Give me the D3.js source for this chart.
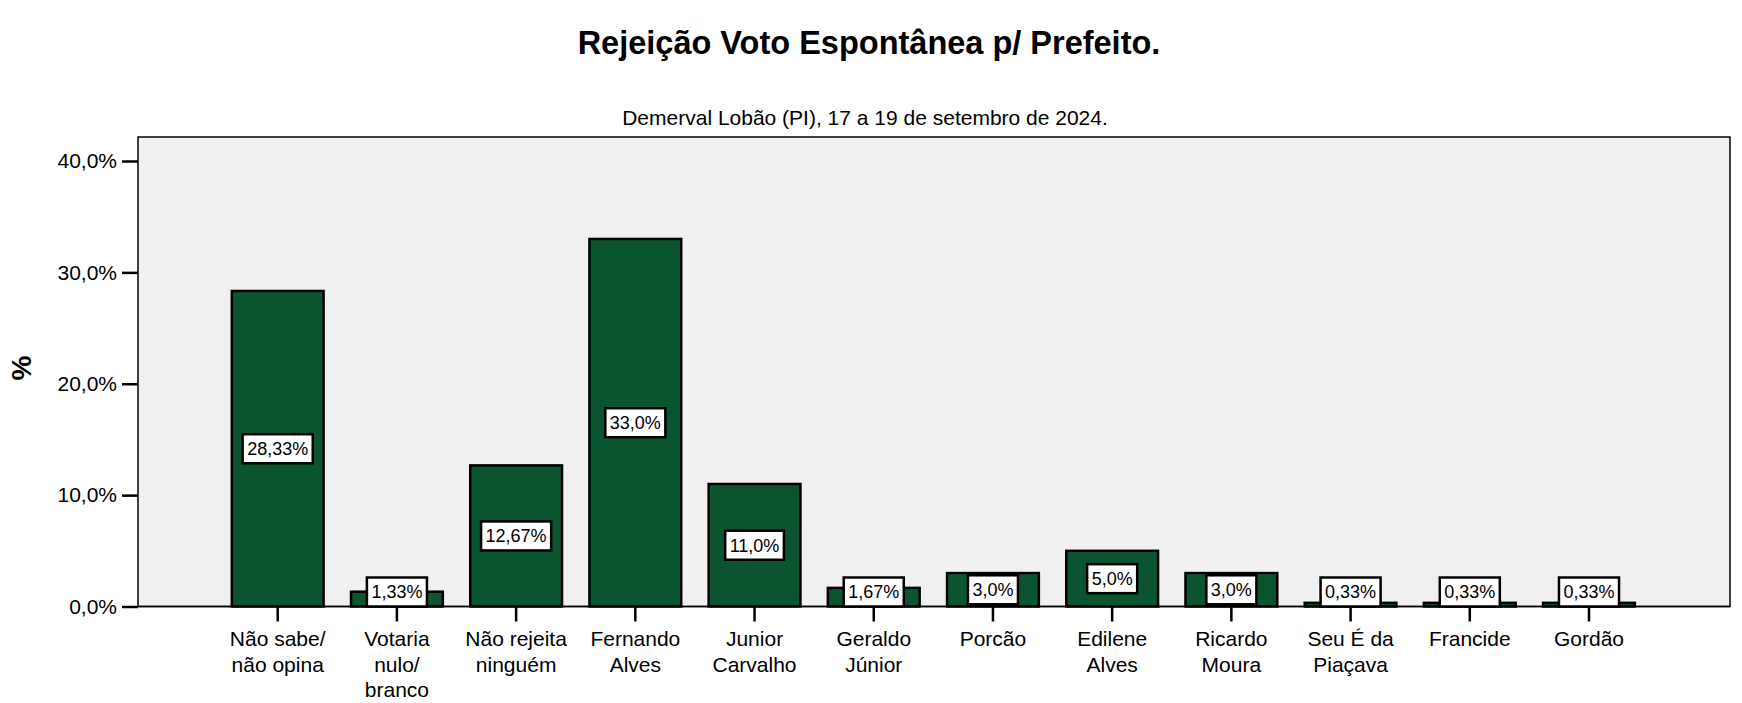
<!DOCTYPE html>
<html><head><meta charset="utf-8">
<script src="https://cdn.jsdelivr.net/npm/d3@7"></script>
<style>
html,body{margin:0;padding:0;background:#fff;}
svg{display:block;font-family:"Liberation Sans",Arial,sans-serif;}
</style></head>
<body>
<svg id="c" width="1742" height="703"></svg>
<script>
const categories = [
  ["Não sabe/","não opina"],
  ["Votaria","nulo/","branco"],
  ["Não rejeita","ninguém"],
  ["Fernando","Alves"],
  ["Junior","Carvalho"],
  ["Geraldo","Júnior"],
  ["Porcão"],
  ["Edilene","Alves"],
  ["Ricardo","Moura"],
  ["Seu É da","Piaçava"],
  ["Francide"],
  ["Gordão"]
];
const values = [28.33, 1.33, 12.67, 33.0, 11.0, 1.67, 3.0, 5.0, 3.0, 0.33, 0.33, 0.33];
const valueLabels = ["28,33%","1,33%","12,67%","33,0%","11,0%","1,67%","3,0%","5,0%","3,0%","0,33%","0,33%","0,33%"];
const yTicks = [0, 10, 20, 30, 40];
const yTickLabels = ["0,0%","10,0%","20,0%","30,0%","40,0%"];
const title = "Rejeição Voto Espontânea p/ Prefeito.";
const subtitle = "Demerval Lobão (PI), 17 a 19 de setembro de 2024.";
const yAxisTitle = "%";

const svg = d3.select("#c");
const frame = {left:138, top:137, right:1730, bottom:606.5};
const ids = d3.range(categories.length);

const x = d3.scaleBand().domain(ids).range([218.1, 1648.6]).paddingInner(0.23).paddingOuter(0.115);
const y = d3.scaleLinear().domain([0, 40]).range([frame.bottom, 161]);

// title
svg.append("text").attr("x", 869).attr("y", 54).attr("text-anchor","middle")
  .attr("font-weight","bold").attr("font-size", 32.5).attr("fill","#000").text(title);
svg.append("text").attr("x", 865).attr("y", 125).attr("text-anchor","middle")
  .attr("font-size", 21).attr("fill","#000").text(subtitle);

// plot background
svg.append("rect").attr("x", frame.left).attr("y", frame.top)
  .attr("width", frame.right-frame.left).attr("height", frame.bottom-frame.top)
  .attr("fill","#f0f0f0").attr("stroke","#000").attr("stroke-width",1.5);

// y axis
const yAxis = d3.axisLeft(y).tickValues(yTicks).tickFormat((d,i)=>yTickLabels[i]).tickSize(16).tickPadding(5);
const gy = svg.append("g").attr("transform", `translate(${frame.left},0)`).call(yAxis);
gy.select(".domain").remove();
gy.selectAll(".tick line").attr("stroke","#000").attr("stroke-width",2.5);
gy.selectAll(".tick text").attr("font-size",21).attr("fill","#000").attr("font-family","Liberation Sans, Arial, sans-serif");

svg.append("text").attr("transform","translate(31,368) rotate(-90)").attr("text-anchor","middle")
  .attr("font-weight","bold").attr("font-size",28).attr("fill","#000").text(yAxisTitle);

// bars
svg.append("g").selectAll("rect").data(ids).join("rect")
  .attr("x", i=>x(i)).attr("width", x.bandwidth())
  .attr("y", i=>y(values[i])).attr("height", i=>y(0)-y(values[i]))
  .attr("fill","#0b5430").attr("stroke","#000").attr("stroke-width",2.5);

// x axis
const xAxis = d3.axisBottom(x).tickSize(15).tickFormat("");
const gx = svg.append("g").attr("transform", `translate(0,${frame.bottom})`).call(xAxis);
gx.select(".domain").remove();
gx.selectAll(".tick line").attr("stroke","#000").attr("stroke-width",2.5);
svg.append("line").attr("x1",frame.left).attr("x2",frame.right).attr("y1",frame.bottom).attr("y2",frame.bottom)
  .attr("stroke","#000").attr("stroke-width",1.5);

// category labels
const cl = svg.append("g").selectAll("text").data(ids).join("text")
  .attr("text-anchor","middle").attr("font-size",21).attr("fill","#000");
cl.each(function(i){
  const t = d3.select(this);
  categories[i].forEach((ln,k)=>{
    t.append("tspan").attr("x", x(i)+x.bandwidth()/2).attr("y", 646 + k*25.5).text(ln);
  });
});

// value labels
const lg = svg.append("g");
ids.forEach(i=>{
  const cx = x(i)+x.bandwidth()/2;
  const mid = (y(values[i]) + y(0))/2;
  const boxH = 29;
  const cy = Math.min(mid, y(0) - boxH/2);
  const g = lg.append("g");
  const r = g.append("rect");
  const t = g.append("text").attr("x", cx).attr("y", cy).attr("dy","0.36em")
    .attr("text-anchor","middle").attr("font-size",18).attr("fill","#000").text(valueLabels[i]);
  const w = t.node().getComputedTextLength() + 9;
  r.attr("x", cx - w/2).attr("y", cy - boxH/2).attr("width", w).attr("height", boxH)
   .attr("fill","#fff").attr("stroke","#000").attr("stroke-width",2.5);
});
</script>
</body></html>
